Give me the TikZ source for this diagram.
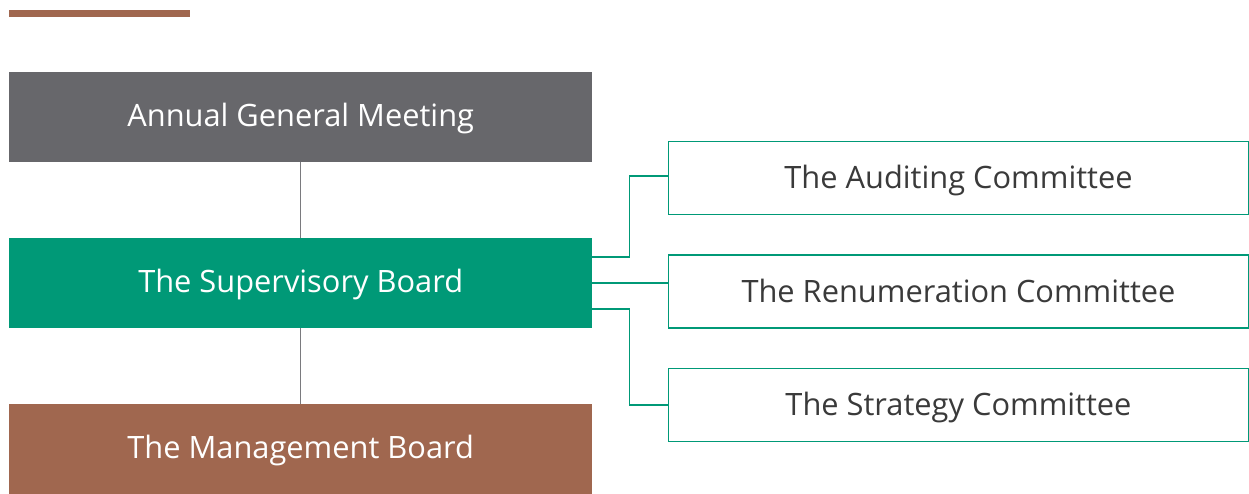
\documentclass[tikz,border=0pt]{standalone}
\usepackage{fontspec}
\setmainfont{Open Sans}
\definecolor{agmgray}{HTML}{67676B}
\definecolor{sbgreen}{HTML}{009977}
\definecolor{mbbrown}{HTML}{A0674F}
\definecolor{linegray}{HTML}{7A7A7E}
\definecolor{txtgray}{HTML}{3A3A3A}
\begin{document}
\begin{tikzpicture}[x=1pt,y=-1pt,
  filledbox/.style={rectangle, minimum width=583pt, minimum height=90pt, inner sep=0pt, text height=18.4pt, text depth=0pt, text=white, font=\fontsize{30.8}{36}\selectfont},
  cmtbox/.style={rectangle, draw=sbgreen, line width=1.5pt, fill=white, minimum width=580pt, minimum height=73pt, inner sep=0pt, text height=21pt, text depth=0pt, text=txtgray, font=\fontsize{30.8}{36}\selectfont},
  vline/.style={draw=linegray, line width=1.5pt},
  cline/.style={draw=sbgreen, line width=1.5pt}]
\useasboundingbox (0,0) rectangle (1249,494);
\fill[mbbrown] (9,10) rectangle (190,17);
\node[filledbox, fill=agmgray, anchor=north west] (agm) at (9,72) {Annual General Meeting};
\node[filledbox, fill=sbgreen, anchor=north west] (sb) at (9,238) {The Supervisory Board};
\node[filledbox, fill=mbbrown, anchor=north west] (mb) at (9,404) {The Management Board};
\draw[vline] (agm.south) -- (sb.north);
\draw[vline] (sb.south) -- (mb.north);
\node[cmtbox, anchor=north west] (aud) at (667.75,140.75) {The Auditing Committee};
\node[cmtbox, anchor=north west] (ren) at (667.75,254.25) {The Renumeration Committee};
\node[cmtbox, anchor=north west] (str) at (667.75,367.75) {The Strategy Committee};
\coordinate (j1) at (629.5,257);
\coordinate (j2) at (629.5,283);
\coordinate (j3) at (629.5,309);
\draw[cline] (sb.east |- j1) -- (j1) |- ([yshift=2pt]aud.west);
\draw[cline] (sb.east |- j2) -- (j2 -| ren.west);
\draw[cline] (sb.east |- j3) -- (j3) |- (str.west);
\end{tikzpicture}
\end{document}
